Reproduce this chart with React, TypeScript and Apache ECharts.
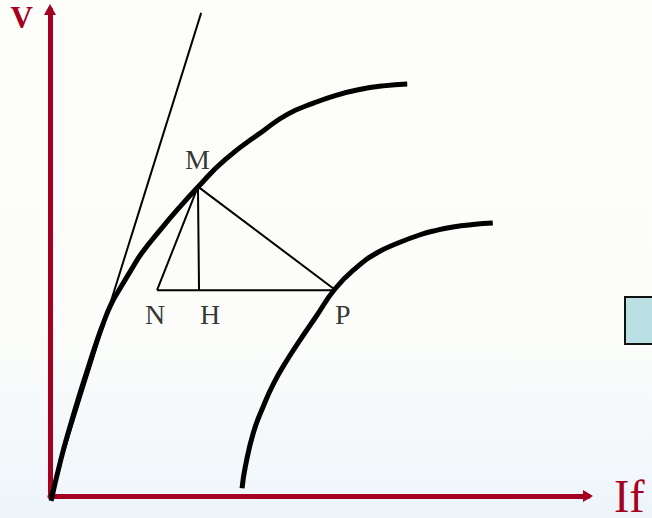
import { useEffect, useRef } from "react";
import * as echarts from "echarts";

const AXIS_COLOR = "#a50021";

const xAxisName = "If";
const yAxisName = "V";

// Upper curve (through M), axis units
const upperCurve: [number, number][] = [
  [0.02, -0.1], [0.2, 0.74], [0.37, 1.42], [0.56, 2.12], [0.73, 2.71],
  [0.86, 3.15], [0.98, 3.52], [1.13, 3.93], [1.32, 4.3], [1.51, 4.65],
  [1.71, 5.0], [2.05, 5.47], [2.38, 5.9], [2.75, 6.35], [3.25, 6.91],
  [3.98, 7.52], [4.42, 7.85], [4.91, 8.08], [5.33, 8.24], [5.73, 8.35],
  [6.19, 8.43], [6.64, 8.47],
];

// Lower curve (through P)
const lowerCurve: [number, number][] = [
  [3.57, 0.16], [3.63, 0.6], [3.78, 1.3], [3.96, 1.83], [4.16, 2.32],
  [4.41, 2.8], [4.65, 3.21], [4.94, 3.68], [5.3, 4.26], [5.71, 4.71],
  [6.08, 5.0], [6.47, 5.2], [6.88, 5.37], [7.18, 5.46], [7.49, 5.53],
  [7.86, 5.58], [8.23, 5.61],
];

// Straight line from origin
const airGapLine: [number, number][] = [
  [0, 0], [2.81, 9.93],
];

const pointNames = ["M", "N", "H", "P"];
const pointX = [2.75, 1.99, 2.77, 5.31];
const pointY = [6.36, 4.23, 4.23, 4.23];

export default function App() {
  const ref = useRef<HTMLDivElement>(null);

  useEffect(() => {
    const chart = echarts.init(ref.current!, null, { renderer: "svg" });
    const pt = (n: string): [number, number] => {
      const i = pointNames.indexOf(n);
      return [pointX[i], pointY[i]];
    };
    const labelOffsets: Record<string, [number, number]> = {
      M: [-0.5, -27],
      N: [-2, 24],
      H: [11, 24],
      P: [7, 24],
    };
    const thin = { color: "#000", width: 2 };
    const thick = { color: "#000", width: 5 };
    const curveBase = {
      type: "line",
      smooth: 0.5,
      showSymbol: false,
      symbol: "none",
      clip: false,
      silent: true,
    };

    chart.setOption({
      animation: false,
      backgroundColor: new echarts.graphic.LinearGradient(0, 0, 0, 1, [
        { offset: 0, color: "#fdfdf9" },
        { offset: 0.63, color: "#fcfdfa" },
        { offset: 1, color: "#eef5fb" },
      ]),
      grid: { left: 50, right: 64, top: 9.5, bottom: 22, outerBoundsMode: "none" },
      xAxis: {
        type: "value",
        min: 0,
        max: 10,
        name: xAxisName,
        nameLocation: "end",
        nameGap: 26,
        nameTextStyle: {
          fontFamily: "Liberation Serif",
          fontSize: 46,
          color: AXIS_COLOR,
          align: "left",
          verticalAlign: "middle",
        },
        axisLine: {
          show: true,
          onZero: false,
          symbol: ["none", "triangle"],
          symbolSize: [12, 10],
          lineStyle: { color: AXIS_COLOR, width: 5, cap: "round" },
        },
        axisTick: { show: false },
        axisLabel: { show: false },
        splitLine: { show: false },
      },
      yAxis: {
        type: "value",
        min: 0,
        max: 10,
        name: yAxisName,
        nameLocation: "end",
        nameGap: -8.4,
        nameTextStyle: {
          fontFamily: "Liberation Serif",
          fontSize: 31,
          fontWeight: "bold",
          color: AXIS_COLOR,
          align: "right",
          verticalAlign: "middle",
          padding: [0, 17, 0, 0],
        },
        axisLine: {
          show: true,
          onZero: false,
          symbol: ["none", "triangle"],
          symbolSize: [12, 11],
          lineStyle: { color: AXIS_COLOR, width: 5, cap: "round" },
        },
        axisTick: { show: false },
        axisLabel: { show: false },
        splitLine: { show: false },
      },
      graphic: [
        {
          type: "rect",
          left: 624,
          top: 296,
          shape: { width: 40, height: 47 },
          style: { fill: "#bbe0e3", stroke: "#111", lineWidth: 2 },
        },
      ],
      series: [
        { ...curveBase, data: upperCurve, lineStyle: thick },
        { ...curveBase, data: lowerCurve, lineStyle: thick },
        { ...curveBase, smooth: false, data: airGapLine, lineStyle: thin },
        {
          ...curveBase,
          smooth: false,
          data: [pt("N"), pt("M"), pt("P"), pt("N")],
          lineStyle: thin,
        },
        { ...curveBase, smooth: false, data: [pt("M"), pt("H")], lineStyle: thin },
        {
          type: "scatter",
          symbolSize: 0,
          silent: true,
          clip: false,
          data: pointNames.map((n) => ({
            name: n,
            value: pt(n),
            label: { offset: labelOffsets[n] },
          })),
          label: {
            show: true,
            position: "inside",
            formatter: "{b}",
            fontFamily: "Liberation Serif",
            fontSize: 28,
            color: "#000",
          },
        },
      ],
    });
    return () => chart.dispose();
  }, []);

  return (
    <div
      ref={ref}
      style={{ position: "absolute", left: 0, top: 0, width: 652, height: 518 }}
    />
  );
}
